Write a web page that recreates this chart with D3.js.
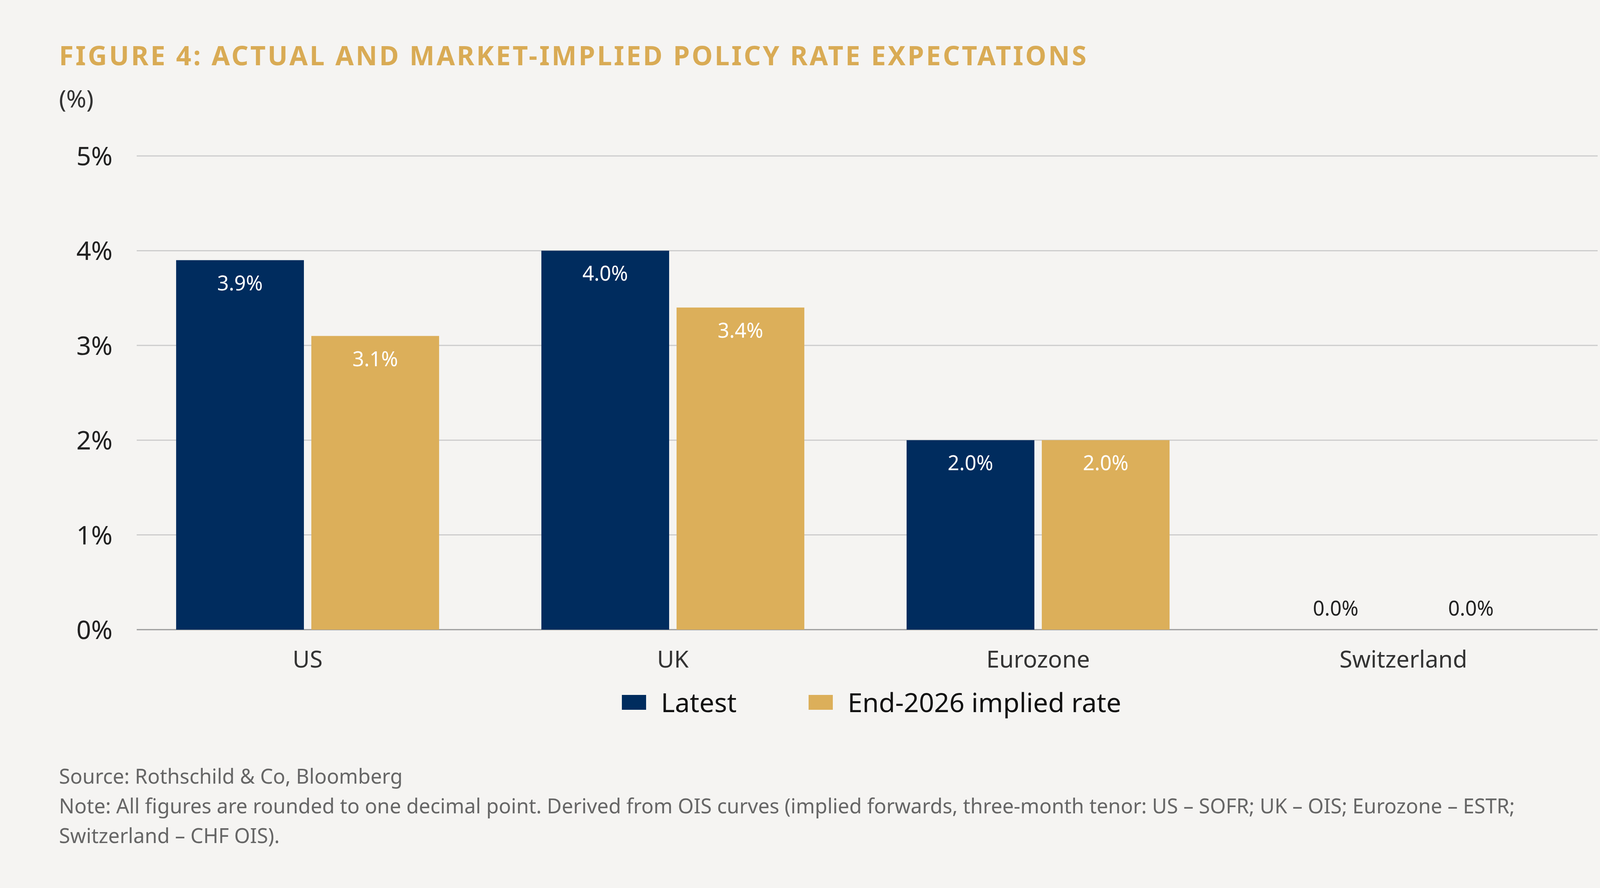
<!DOCTYPE html>
<html><head><meta charset="utf-8">
<script src="https://cdn.jsdelivr.net/npm/d3@7"></script>
<style>body{margin:0;background:#f5f4f2;}svg{display:block;font-family:"Noto Sans",sans-serif;}</style>
</head><body>
<svg id="chart" width="4224" height="2272"></svg>
<script>
var categories = ["US", "UK", "Eurozone", "Switzerland"];
var series = ["Latest", "End-2026 implied rate"];
var latest = [3.9, 4.0, 2.0, 0.0];
var implied = [3.1, 3.4, 2.0, 0.0];
var yTicks = [0, 1, 2, 3, 4, 5];
var colors = ["#002c5e", "#dcaf5a"];

var svg = d3.select("#chart");
svg.append("rect").attr("width", 4224).attr("height", 2272).attr("fill", "#f5f4f2");

var plotL = 350, plotR = 4090, plotT = 399, plotB = 1611;
var y = d3.scaleLinear().domain([0, 5]).range([plotB, plotT]);
var x = d3.scaleBand().domain(categories).range([plotL - 30, plotL + 4 * 935 - 30]).paddingInner(0.28).paddingOuter(0.14);
var xs = d3.scaleBand().domain(series).range([0, x.bandwidth()]).paddingInner(0.055);

svg.append("text").attr("x", 151).attr("y", 167).attr("fill", "#d9ab55")
	.attr("font-size", 68).attr("font-weight", 700).attr("letter-spacing", 5)
	.text("FIGURE 4: ACTUAL AND MARKET-IMPLIED POLICY RATE EXPECTATIONS");
svg.append("text").attr("x", 151).attr("y", 275).attr("fill", "#333").attr("font-size", 62).text("(%)");

// grid
svg.selectAll("line.grid").data(yTicks).enter().append("line")
	.attr("x1", plotL).attr("x2", plotR)
	.attr("y1", function(d){return y(d);}).attr("y2", function(d){return y(d);})
	.attr("stroke", function(d){return d === 0 ? "#999" : "#ccc";}).attr("stroke-width", 3);
svg.selectAll("text.ytick").data(yTicks).enter().append("text")
	.attr("x", 288).attr("y", function(d){return y(d) + 24;}).attr("text-anchor", "end")
	.attr("font-size", 66).attr("fill", "#222").text(function(d){return d + "%";});

var rows = categories.map(function(c, i){return {cat: c, vals: [latest[i], implied[i]]};});
var g = svg.selectAll("g.grp").data(rows).enter().append("g")
	.attr("transform", function(d){return "translate(" + x(d.cat) + ",0)";});
var bars = g.selectAll("g.bar").data(function(d){return d.vals.map(function(v, j){return {v: v, s: series[j], j: j};});})
	.enter().append("g");
bars.append("rect")
	.attr("x", function(d){return xs(d.s);}).attr("width", xs.bandwidth())
	.attr("y", function(d){return y(d.v);}).attr("height", function(d){return plotB - y(d.v);})
	.attr("fill", function(d){return colors[d.j];});
bars.append("text")
	.attr("x", function(d){return xs(d.s) + xs.bandwidth() / 2;})
	.attr("y", function(d){return d.v > 0 ? y(d.v) + 77 : plotB - 36;})
	.attr("text-anchor", "middle").attr("font-size", 52)
	.attr("fill", function(d){return d.v > 0 ? "#fff" : "#222";})
	.text(function(d){return d.v.toFixed(1) + "%";});

svg.selectAll("text.cat").data(categories).enter().append("text")
	.attr("x", function(d){return x(d) + x.bandwidth() / 2;}).attr("y", 1708)
	.attr("text-anchor", "middle").attr("font-size", 60).attr("fill", "#333").text(function(d){return d;});

// legend
var lg = [{s: series[0], x: 1592}, {s: series[1], x: 2070}];
lg.forEach(function(l, i){
	svg.append("rect").attr("x", l.x).attr("y", 1778).attr("width", 62).attr("height", 38).attr("fill", colors[i]);
	svg.append("text").attr("x", l.x + 100).attr("y", 1822).attr("font-size", 68).attr("fill", "#111").text(l.s);
});

var notes = ["Source: Rothschild & Co, Bloomberg",
	"Note: All figures are rounded to one decimal point. Derived from OIS curves (implied forwards, three-month tenor: US \u2013 SOFR; UK \u2013 OIS; Eurozone \u2013 ESTR;",
	"Switzerland \u2013 CHF OIS)."];
svg.selectAll("text.note").data(notes).enter().append("text")
	.attr("x", 151).attr("y", function(d, i){return 2005 + i * 76;})
	.attr("font-size", 52).attr("fill", "#666").text(function(d){return d;});
</script>
</body></html>
